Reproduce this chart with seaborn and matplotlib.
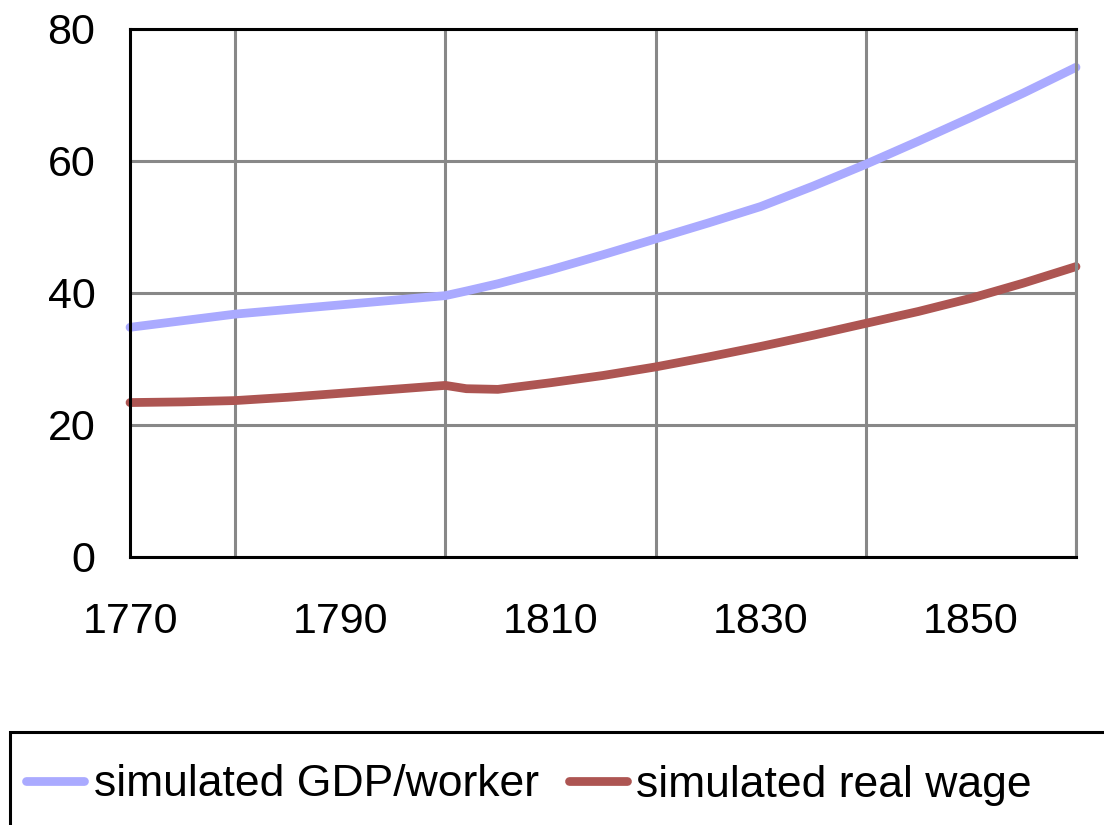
import pandas as pd
import matplotlib.pyplot as plt
import seaborn as sns
from matplotlib.patches import Rectangle
from matplotlib.ticker import FixedLocator

# values
years = [1770, 1775, 1780, 1785, 1790, 1795, 1800, 1802, 1805, 1810,
         1815, 1820, 1825, 1830, 1835, 1840, 1845, 1850, 1855, 1860]
gdp_per_worker = [34.8, 35.8, 36.8, 37.5, 38.2, 38.9, 39.6, 40.3, 41.4, 43.5,
                  45.8, 48.2, 50.6, 53.1, 56.2, 59.5, 63.0, 66.6, 70.3, 74.2]
real_wage = [23.4, 23.5, 23.7, 24.2, 24.8, 25.4, 26.0, 25.5, 25.4, 26.4,
             27.5, 28.8, 30.3, 31.9, 33.6, 35.4, 37.2, 39.2, 41.5, 44.0]
series_names = ['simulated GDP/worker', 'simulated real wage']
colors = ['#aaaaff', '#ad5552']

x_labels = [1770, 1790, 1810, 1830, 1850]
x_grid = [1780, 1800, 1820, 1840, 1860]
y_labels = [0, 20, 40, 60, 80]
y_minor = [10, 30, 50, 70]

sns.set_style('white')
plt.rcParams['font.family'] = ['Liberation Sans', 'DejaVu Sans']
plt.rcParams['text.color'] = 'black'
plt.rcParams['xtick.labelcolor'] = 'black'
plt.rcParams['ytick.labelcolor'] = 'black'

df = pd.DataFrame({'year': years,
                   series_names[0]: gdp_per_worker,
                   series_names[1]: real_wage})
long_df = df.melt(id_vars='year', var_name='series', value_name='value')

fig = plt.figure(figsize=(11.04, 8.25), dpi=100)
ax = fig.add_axes([130 / 1104, 1 - 557 / 825, (1076 - 130) / 1104, (557 - 29) / 825])

sns.lineplot(data=long_df, x='year', y='value', hue='series',
             palette=colors, linewidth=6.3, ax=ax, legend=False,
             solid_capstyle='round', solid_joinstyle='round', clip_on=False)

ax.set_xlim(1770, 1860)
ax.set_ylim(0, 80)
ax.xaxis.set_major_locator(FixedLocator(x_labels))
ax.xaxis.set_minor_locator(FixedLocator(x_grid))
ax.yaxis.set_major_locator(FixedLocator(y_labels))
ax.yaxis.set_minor_locator(FixedLocator(y_minor))

ax.grid(which='minor', axis='x', color='#888888', linewidth=2.2)
ax.grid(which='major', axis='y', color='#888888', linewidth=2.2)
ax.set_axisbelow(True)

ax.tick_params(axis='both', which='both', direction='inout', color='#888888',
               width=2.2, labelsize=31)
ax.tick_params(axis='x', which='major', length=15, pad=25)
ax.tick_params(axis='x', which='minor', length=10)
ax.tick_params(axis='y', which='major', length=20, pad=15)
ax.tick_params(axis='y', which='minor', length=14)

for side in ['left', 'bottom', 'top']:
    ax.spines[side].set_color('black')
    ax.spines[side].set_linewidth(2.2)
ax.spines['right'].set_color('#888888')
ax.spines['right'].set_linewidth(2.2)

ax.set_xlabel('')
ax.set_ylabel('')

# legend box below the plot, running off the right and bottom edges
fig.patches.append(Rectangle((10 / 1104, -0.05), 1.05, 0.05 + 1 - 732 / 825,
                             transform=fig.transFigure, fill=False,
                             edgecolor='black', linewidth=2.2))
handles = [plt.Line2D([], [], color=c, linewidth=6.3, solid_capstyle='round')
           for c in colors]
fig.legend(handles, series_names, loc='center left',
           bbox_to_anchor=(26 / 1104, 1 - 785 / 825), ncol=2, frameon=False,
           fontsize=32, handlelength=1.3, handletextpad=0.22,
           columnspacing=0.68, borderpad=0, borderaxespad=0)

fig.savefig('out.png', dpi=100)
